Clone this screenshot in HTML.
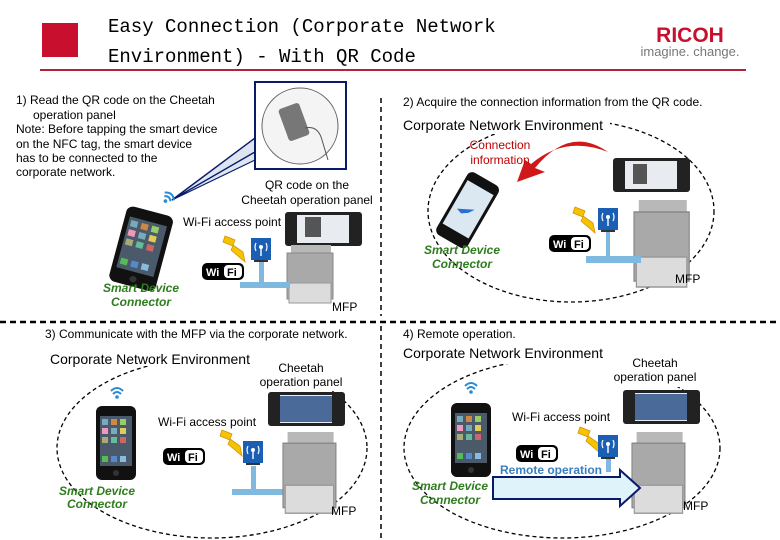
<!DOCTYPE html>
<html><head><meta charset="utf-8"><style>
html,body{margin:0;padding:0;background:#fff;}
svg{display:block;font-family:"Liberation Sans",sans-serif;}
</style></head><body>
<svg width="780" height="540" viewBox="0 0 780 540" xmlns="http://www.w3.org/2000/svg">
<defs>
<g id="wifi">
<rect x="0" y="0" width="42" height="17" rx="5" fill="#000"/>
<rect x="22" y="2" width="18" height="13" rx="4" fill="#fff"/>
<text x="4" y="13" font-size="11" font-weight="bold" fill="#fff">Wi</text>
<text x="25" y="13" font-size="11" font-weight="bold" fill="#000">Fi</text>
</g>
<g id="ap">
<rect x="0" y="0" width="20" height="22" fill="#1a5fb4"/>
<circle cx="10" cy="9" r="2" fill="#fff"/>
<path d="M5 5 Q3 9 5 13 M15 5 Q17 9 15 13" stroke="#fff" fill="none" stroke-width="1.2"/>
<rect x="9.3" y="10" width="1.4" height="8" fill="#fff"/>
<rect x="3" y="22" width="14" height="2" fill="#333"/>
</g>
<g id="bolt"><polygon points="0,0 10,4 8,9 18,16 20,26 6,14 8,10 -2,6" fill="#f5c400" stroke="#d89000" stroke-width="0.8"/></g>
<g id="panel">
<rect x="0" y="0" width="77" height="34" rx="3" fill="#222"/>
<rect x="12" y="3" width="52" height="28" fill="#e8ecf0"/>
</g>
<g id="mfp">
<rect x="4" y="0" width="40" height="10" fill="#b8b8b8"/>
<rect x="0" y="8" width="46" height="46" fill="#a9a9a9" stroke="#888"/>
<rect x="2" y="38" width="42" height="20" fill="#dcdcdc" stroke="#999"/>
</g>
<g id="phone">
<rect x="0" y="0" width="40" height="74" rx="6" fill="#111"/>
<rect x="4" y="10" width="32" height="50" fill="#4a5a6a"/>
<g fill="#7ab">
<rect x="6" y="13" width="6" height="6"/><rect x="15" y="13" width="6" height="6" fill="#c84"/><rect x="24" y="13" width="6" height="6" fill="#9c6"/>
<rect x="6" y="22" width="6" height="6" fill="#e9b"/><rect x="15" y="22" width="6" height="6"/><rect x="24" y="22" width="6" height="6" fill="#dc5"/>
<rect x="6" y="31" width="6" height="6" fill="#aa7"/><rect x="15" y="31" width="6" height="6" fill="#6b9"/><rect x="24" y="31" width="6" height="6" fill="#c66"/>
<rect x="6" y="50" width="6" height="6" fill="#5b5"/><rect x="15" y="50" width="6" height="6" fill="#58c"/><rect x="24" y="50" width="6" height="6" fill="#8bd"/>
</g>
<circle cx="20" cy="67" r="3" fill="#333"/>
</g>
<g id="waves"><path d="M-6 -2 Q0 -8 6 -2 M-4 1 Q0 -3 4 1" stroke="#2a8ad4" stroke-width="2" fill="none"/><circle cx="0" cy="4" r="1.8" fill="#2a8ad4"/></g>
</defs>

<!-- header -->
<rect x="42" y="23" width="36" height="34" fill="#c8102e"/>
<text x="108" y="32" font-size="19" font-family="'Liberation Mono',monospace" fill="#000">Easy Connection (Corporate Network</text>
<text x="108" y="62" font-size="19" font-family="'Liberation Mono',monospace" fill="#000">Environment) - With QR Code</text>
<rect x="40" y="69" width="706" height="2" fill="#b0243a"/>
<text x="690" y="42" font-size="21" font-weight="bold" fill="#c8102e" text-anchor="middle">RICOH</text>
<text x="690" y="56" font-size="13" fill="#777" text-anchor="middle">imagine. change.</text>

<!-- dividers -->
<line x1="381" y1="98" x2="381" y2="316" stroke="#000" stroke-width="1.5" stroke-dasharray="5,4"/>
<line x1="381" y1="326" x2="381" y2="540" stroke="#000" stroke-width="1.5" stroke-dasharray="5,4"/>
<line x1="0" y1="322" x2="780" y2="322" stroke="#000" stroke-width="2.5" stroke-dasharray="6,4"/>

<!-- panel 1 -->
<g font-size="12" fill="#000">
<text x="16" y="104">1)  Read the QR code on the Cheetah</text>
<text x="33" y="119">operation panel</text>
<text x="16" y="133">Note: Before tapping the smart device</text>
<text x="16" y="148">on the NFC tag, the smart device</text>
<text x="16" y="162">has to be connected to the</text>
<text x="16" y="176">corporate network.</text>
</g>
<polygon points="172,200 255,138 255,152" fill="#dde6f0" stroke="#0a1a6a" stroke-width="1.5"/>
<polygon points="172,200 255,152 255,160" fill="#dde6f0" stroke="#0a1a6a" stroke-width="1.2"/>
<rect x="255" y="82" width="91" height="87" fill="#fff" stroke="#0a1a6a" stroke-width="2"/>
<circle cx="300" cy="126" r="38" fill="#f4f4f4" stroke="#666"/>
<rect x="283" y="105" width="22" height="34" rx="3" fill="#777" transform="rotate(-20 294 122)"/>
<path d="M305 128 Q318 125 322 140 L328 160" stroke="#555" fill="none"/>
<use href="#waves" transform="translate(168,198) rotate(40)"/>
<use href="#phone" transform="translate(128,205) rotate(15) scale(1.2,1.05)"/>
<g font-size="12" font-weight="bold" font-style="italic" fill="#2e7d1e" text-anchor="middle">
<text x="141" y="292">Smart Device</text><text x="141" y="306">Connector</text></g>
<g font-size="12" text-anchor="middle"><text x="307" y="189">QR code on the</text><text x="307" y="204">Cheetah operation panel</text></g>
<text x="183" y="226" font-size="12">Wi-Fi access point</text>
<use href="#panel" transform="translate(285,212)"/>
<rect x="305" y="217" width="16" height="20" fill="#555"/>
<use href="#mfp" transform="translate(287,245)"/>
<use href="#bolt" transform="translate(225,236)"/>
<rect x="259" y="262" width="5" height="22" fill="#7fb9e0"/>
<rect x="240" y="282" width="50" height="6" fill="#7fb9e0"/>
<use href="#ap" transform="translate(251,238)"/>
<use href="#wifi" transform="translate(202,263)"/>
<text x="332" y="311" font-size="12">MFP</text>

<!-- panel 2 -->
<text x="403" y="106" font-size="12">2) Acquire the connection information from the QR code.</text>
<ellipse cx="571" cy="211" rx="143" ry="91" fill="none" stroke="#000" stroke-width="1.3" stroke-dasharray="4,3"/>
<rect x="400" y="118" width="210" height="16" fill="#fff"/>
<text x="403" y="130" font-size="14">Corporate Network Environment</text>
<path d="M608 152 Q570 125 535 168 L545 172 L517 182 L525 160 L531 164 Q565 135 608 152 Z" fill="#d01818"/>
<g font-size="12" fill="#c00000" text-anchor="middle"><text x="500" y="149">Connection</text><text x="500" y="164">information</text></g>
<g transform="translate(470,170) rotate(30)">
<rect x="0" y="0" width="36" height="72" rx="6" fill="#111"/>
<rect x="3" y="10" width="30" height="50" fill="#dbe8f2"/>
<polygon points="8,40 24,32 20,38 14,42" fill="#2a6fd0"/>
</g>
<use href="#panel" transform="translate(613,158)"/>
<rect x="633" y="164" width="14" height="20" fill="#555"/>
<use href="#mfp" transform="translate(634,200) scale(1.2,1.5)"/>
<use href="#bolt" transform="translate(575,207)"/>
<rect x="606" y="230" width="4" height="28" fill="#7fb9e0"/>
<rect x="586" y="256" width="55" height="7" fill="#7fb9e0"/>
<use href="#ap" transform="translate(598,208)"/>
<use href="#wifi" transform="translate(549,235)"/>
<g font-size="12" font-weight="bold" font-style="italic" fill="#2e7d1e" text-anchor="middle">
<text x="462" y="254">Smart Device</text><text x="462" y="268">Connector</text></g>
<text x="675" y="283" font-size="12">MFP</text>

<!-- panel 3 -->
<text x="45" y="338" font-size="12">3) Communicate with the MFP via the corporate network.</text>
<ellipse cx="212" cy="448" rx="155" ry="90" fill="none" stroke="#000" stroke-width="1.3" stroke-dasharray="4,3"/>
<rect x="48" y="350" width="212" height="16" fill="#fff"/>
<rect x="258" y="360" width="88" height="30" fill="#fff"/>
<text x="50" y="364" font-size="14">Corporate Network Environment</text>
<g font-size="12" text-anchor="middle"><text x="301" y="372">Cheetah</text><text x="301" y="386">operation panel</text></g>
<use href="#waves" transform="translate(117,393)"/>
<use href="#phone" transform="translate(96,406)"/>
<g font-size="12" font-weight="bold" font-style="italic" fill="#2e7d1e" text-anchor="middle">
<text x="97" y="495">Smart Device</text><text x="97" y="508">Connector</text></g>
<text x="158" y="426" font-size="12">Wi-Fi access point</text>
<use href="#wifi" transform="translate(163,448)"/>
<use href="#bolt" transform="translate(222,430)"/>
<rect x="251" y="466" width="5" height="25" fill="#7fb9e0"/>
<rect x="232" y="489" width="52" height="6" fill="#7fb9e0"/>
<use href="#ap" transform="translate(243,441)"/>
<use href="#panel" transform="translate(268,392)"/>
<rect x="280" y="396" width="52" height="26" fill="#4a6a9a"/>
<use href="#mfp" transform="translate(283,432) scale(1.15,1.4)"/>
<text x="331" y="515" font-size="12">MFP</text>

<!-- panel 4 -->
<text x="403" y="338" font-size="12">4) Remote operation.</text>
<ellipse cx="562" cy="448" rx="158" ry="90" fill="none" stroke="#000" stroke-width="1.3" stroke-dasharray="4,3"/>
<rect x="400" y="346" width="212" height="18" fill="#fff"/>
<rect x="610" y="355" width="92" height="32" fill="#fff"/>
<text x="403" y="358" font-size="14">Corporate Network Environment</text>
<g font-size="12" text-anchor="middle"><text x="655" y="367">Cheetah</text><text x="655" y="381">operation panel</text></g>
<use href="#waves" transform="translate(471,388)"/>
<use href="#phone" transform="translate(451,403)"/>
<text x="512" y="421" font-size="12">Wi-Fi access point</text>
<use href="#wifi" transform="translate(516,445)"/>
<use href="#bolt" transform="translate(580,427)"/>
<rect x="606" y="458" width="5" height="14" fill="#7fb9e0"/>
<use href="#ap" transform="translate(598,435)"/>
<use href="#panel" transform="translate(623,390)"/>
<rect x="635" y="394" width="52" height="26" fill="#4a6a9a"/>
<use href="#mfp" transform="translate(632,432) scale(1.15,1.4)"/>
<polygon points="493,477 620,477 620,470 640,488 620,506 620,499 493,499" fill="#dff3fa" stroke="#0a1a6a" stroke-width="2"/>
<text x="500" y="474" font-size="12" font-weight="bold" fill="#3a7fc0">Remote operation</text>
<g font-size="12" font-weight="bold" font-style="italic" fill="#2e7d1e" text-anchor="middle">
<text x="450" y="490">Smart Device</text><text x="450" y="504">Connector</text></g>
<text x="683" y="510" font-size="12">MFP</text>
</svg>
</body></html>
